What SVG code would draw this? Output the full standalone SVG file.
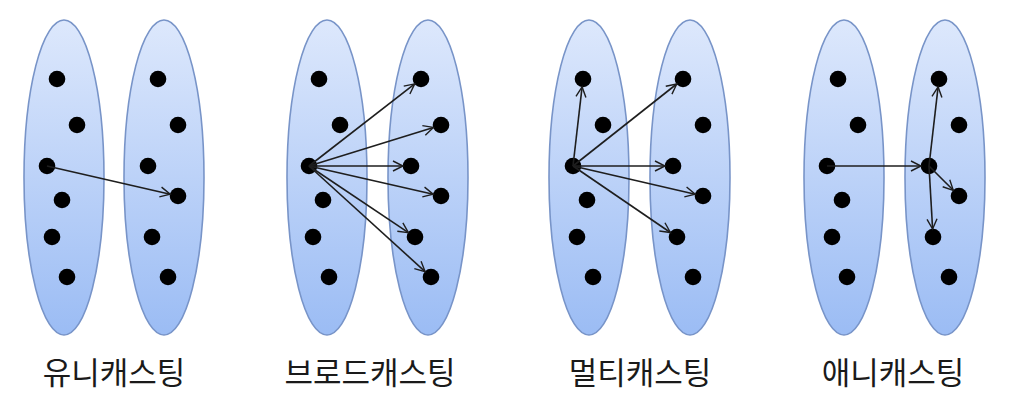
<svg xmlns="http://www.w3.org/2000/svg" width="1011" height="413" viewBox="0 0 1011 413">
<defs>
<linearGradient id="g" x1="0" y1="0" x2="0" y2="1">
<stop offset="0" stop-color="#dde8fc"/>
<stop offset="1" stop-color="#9bbcf4"/>
</linearGradient>
<marker id="ah" markerUnits="userSpaceOnUse" markerWidth="14" markerHeight="14" refX="10" refY="5" orient="auto" overflow="visible">
<path d="M0,0 L10,5 L0,10" fill="none" stroke="#1e1e1e" stroke-width="1.4" stroke-linejoin="miter"/>
</marker>
</defs>
<style>
.set{fill:url(#g);stroke:#7894c8;stroke-width:1.6}
.dot{fill:#000}
.edge{stroke:#1e1e1e;stroke-width:1.6;fill:none;marker-end:url(#ah)}
.lbl{font-family:"Noto Sans CJK KR","Noto Sans CJK SC",sans-serif;font-size:31px;fill:#1a1a1a;text-anchor:middle}
</style>
<rect width="1011" height="413" fill="#fff"/>

<g id="unicast">
<ellipse class="set" cx="64" cy="177.5" rx="40" ry="157.5"/>
<ellipse class="set" cx="164" cy="177.5" rx="40" ry="157.5"/>
<circle class="dot" cx="57" cy="79" r="8.3"/><circle class="dot" cx="77" cy="125" r="8.3"/><circle class="dot" cx="47" cy="166" r="8.3"/><circle class="dot" cx="62" cy="200" r="8.3"/><circle class="dot" cx="52" cy="237" r="8.3"/><circle class="dot" cx="67" cy="277" r="8.3"/>
<circle class="dot" cx="158" cy="79" r="8.3"/><circle class="dot" cx="178" cy="125" r="8.3"/><circle class="dot" cx="148" cy="166" r="8.3"/><circle class="dot" cx="178" cy="196" r="8.3"/><circle class="dot" cx="152" cy="237" r="8.3"/><circle class="dot" cx="168" cy="277" r="8.3"/>
<text class="lbl" x="114" y="384">유니캐스팅</text>
</g>

<g id="broadcast">
<ellipse class="set" cx="327" cy="177.5" rx="40" ry="157.5"/>
<ellipse class="set" cx="428" cy="177.5" rx="40" ry="157.5"/>
<circle class="dot" cx="319" cy="79" r="8.3"/><circle class="dot" cx="340" cy="125" r="8.3"/><circle class="dot" cx="309" cy="166" r="8.3"/><circle class="dot" cx="323" cy="200" r="8.3"/><circle class="dot" cx="313" cy="237" r="8.3"/><circle class="dot" cx="329" cy="277" r="8.3"/>
<circle class="dot" cx="421" cy="79" r="8.3"/><circle class="dot" cx="441" cy="125" r="8.3"/><circle class="dot" cx="411" cy="166" r="8.3"/><circle class="dot" cx="441" cy="196" r="8.3"/><circle class="dot" cx="415" cy="237" r="8.3"/><circle class="dot" cx="431" cy="277" r="8.3"/>
<text class="lbl" x="370" y="384">브로드캐스팅</text>
</g>

<g id="multicast">
<ellipse class="set" cx="589" cy="177.5" rx="40" ry="157.5"/>
<ellipse class="set" cx="690" cy="177.5" rx="40" ry="157.5"/>
<circle class="dot" cx="583" cy="79" r="8.3"/><circle class="dot" cx="603" cy="125" r="8.3"/><circle class="dot" cx="573" cy="166" r="8.3"/><circle class="dot" cx="587" cy="200" r="8.3"/><circle class="dot" cx="577" cy="237" r="8.3"/><circle class="dot" cx="593" cy="277" r="8.3"/>
<circle class="dot" cx="683" cy="79" r="8.3"/><circle class="dot" cx="703" cy="125" r="8.3"/><circle class="dot" cx="673" cy="166" r="8.3"/><circle class="dot" cx="703" cy="196" r="8.3"/><circle class="dot" cx="677" cy="237" r="8.3"/><circle class="dot" cx="693" cy="277" r="8.3"/>
<text class="lbl" x="640" y="384">멀티캐스팅</text>
</g>

<g id="anycast">
<ellipse class="set" cx="844" cy="177.5" rx="40" ry="157.5"/>
<ellipse class="set" cx="945" cy="177.5" rx="40" ry="157.5"/>
<circle class="dot" cx="838" cy="79" r="8.3"/><circle class="dot" cx="858" cy="125" r="8.3"/><circle class="dot" cx="827" cy="166" r="8.3"/><circle class="dot" cx="842" cy="200" r="8.3"/><circle class="dot" cx="832" cy="237" r="8.3"/><circle class="dot" cx="847" cy="277" r="8.3"/>
<circle class="dot" cx="939" cy="79" r="8.3"/><circle class="dot" cx="959" cy="125" r="8.3"/><circle class="dot" cx="929" cy="166" r="8.3"/><circle class="dot" cx="959" cy="196" r="8.3"/><circle class="dot" cx="933" cy="237" r="8.3"/><circle class="dot" cx="949" cy="277" r="8.3"/>
<text class="lbl" x="893" y="384">애니캐스팅</text>
</g>

<g id="connectors">
<line class="edge" x1="47" y1="166" x2="170.2" y2="194.2"/>
<line class="edge" x1="309" y1="166" x2="414.7" y2="83.9"/>
<line class="edge" x1="309" y1="166" x2="433.4" y2="127.4"/>
<line class="edge" x1="309" y1="166" x2="403" y2="166"/>
<line class="edge" x1="309" y1="166" x2="433.2" y2="194.2"/>
<line class="edge" x1="309" y1="166" x2="408.4" y2="232.6"/>
<line class="edge" x1="309" y1="166" x2="425.1" y2="271.6"/>
<line class="edge" x1="573" y1="166" x2="582.1" y2="86.9"/>
<line class="edge" x1="573" y1="166" x2="676.7" y2="84"/>
<line class="edge" x1="573" y1="166" x2="665" y2="166"/>
<line class="edge" x1="573" y1="166" x2="695.2" y2="194.2"/>
<line class="edge" x1="573" y1="166" x2="670.4" y2="232.5"/>
<line class="edge" x1="827" y1="166" x2="921" y2="166"/>
<line class="edge" x1="929" y1="166" x2="938.1" y2="86.9"/>
<line class="edge" x1="929" y1="166" x2="953.3" y2="190.3"/>
<line class="edge" x1="929" y1="166" x2="932.6" y2="229"/>
</g>
</svg>
